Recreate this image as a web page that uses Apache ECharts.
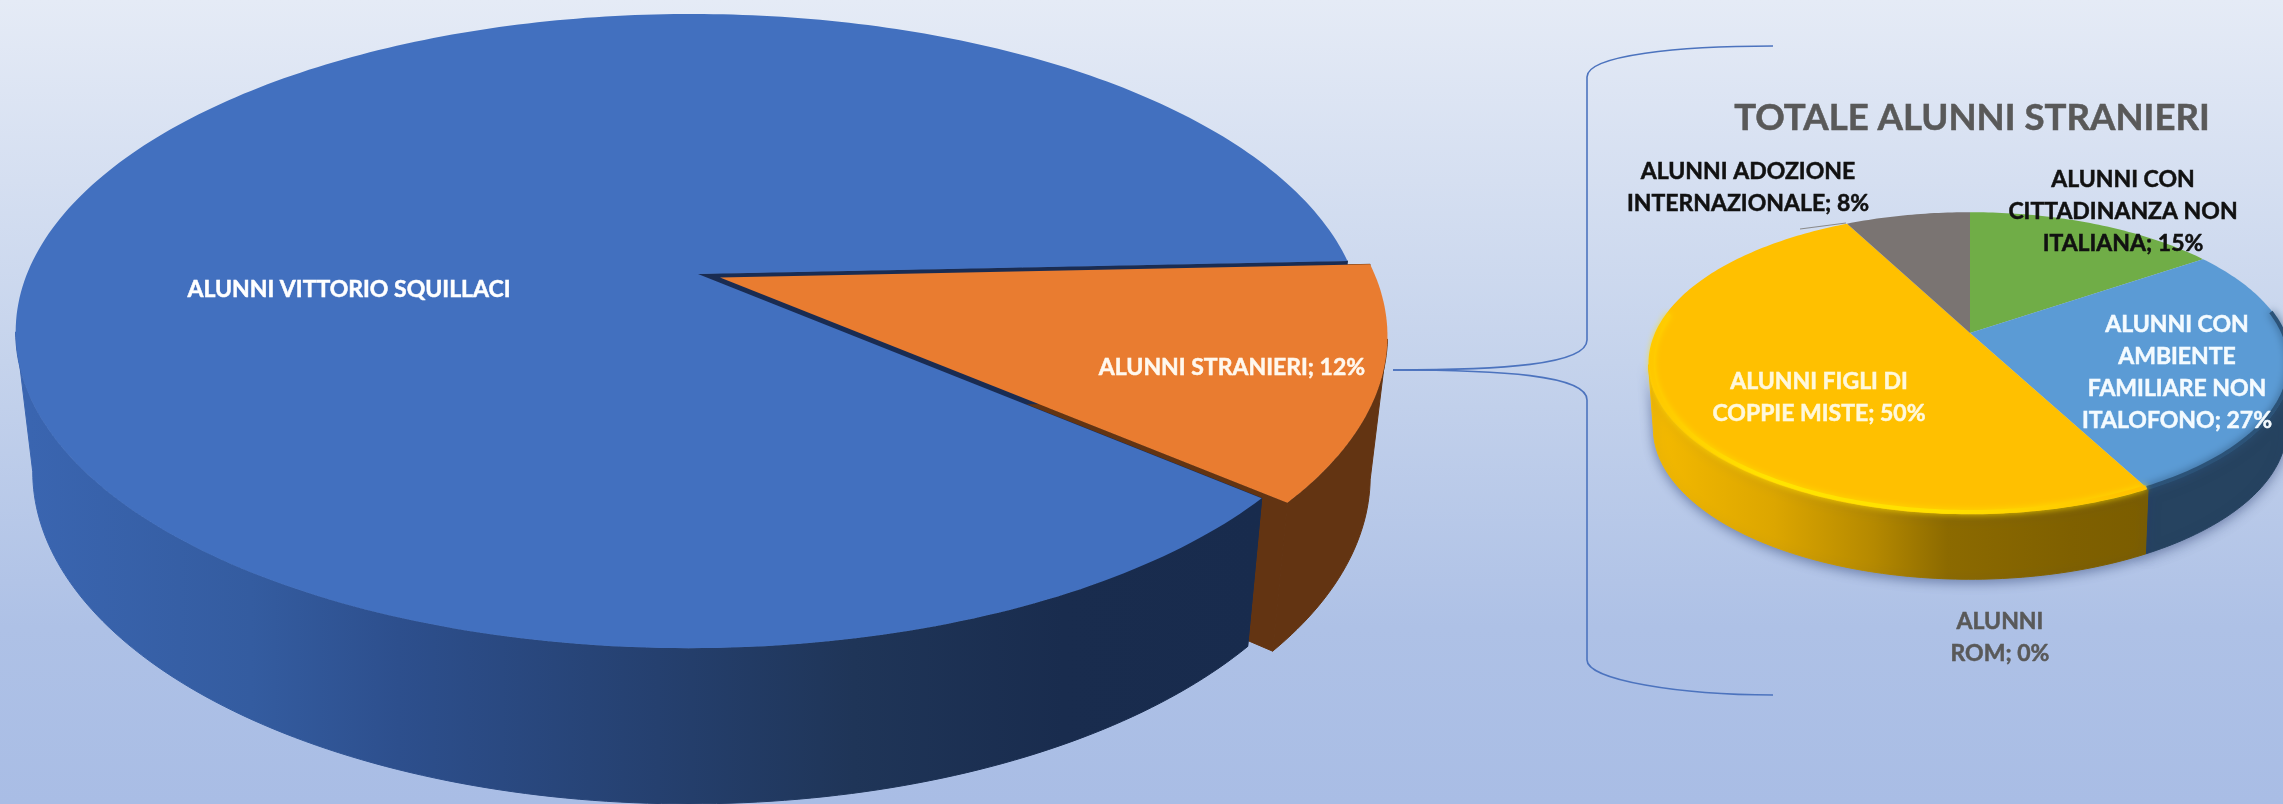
<!DOCTYPE html>
<html>
<head>
<meta charset="utf-8">
<style>html,body{margin:0;padding:0;overflow:hidden}#c{width:2283px;height:804px}</style>
<script src="https://cdn.jsdelivr.net/npm/echarts@6/dist/echarts.min.js"></script>
</head>
<body>
<div id="c"></div>
<script>
// ---- data ----
const mainNames = ['ALUNNI VITTORIO SQUILLACI', 'ALUNNI STRANIERI'];
const mainValues = [88, 12];
const mainLabels = [['ALUNNI VITTORIO SQUILLACI'], ['ALUNNI STRANIERI; 12%']];

const subTitle = 'TOTALE ALUNNI STRANIERI';
const subNames = ['ALUNNI CON CITTADINANZA NON ITALIANA', 'ALUNNI CON AMBIENTE FAMILIARE NON ITALOFONO', 'ALUNNI ROM', 'ALUNNI FIGLI DI COPPIE MISTE', 'ALUNNI ADOZIONE INTERNAZIONALE'];
const subValues = [15.4, 26.9, 0, 50.1, 7.6];
const subLabels = [
  ['ALUNNI CON', 'CITTADINANZA NON', 'ITALIANA; 15%'],
  ['ALUNNI CON', 'AMBIENTE', 'FAMILIARE NON', 'ITALOFONO; 27%'],
  ['ALUNNI', 'ROM; 0%'],
  ['ALUNNI FIGLI DI', 'COPPIE MISTE; 50%'],
  ['ALUNNI ADOZIONE', 'INTERNAZIONALE; 8%']
];

// ---- look ----
const FONT = 'Lato, Carlito, "Open Sans", sans-serif';
const bluewall = {x0: 30, x1: 1260, stops: [[0,'#3A65B0'],[.18,'#345CA0'],[.30,'#2D4F8D'],[.51,'#25406F'],[.67,'#1F3558'],[.84,'#192C4E'],[1,'#182B4D']]};
const yellowwall = {x0: 1650, x1: 2146, stops: [[0,'#F5BA00'],[.25,'#DCA600'],[.45,'#B58900'],[.6,'#8C6A00'],[.85,'#7F6000'],[1,'#7B5D00']]};

function grad(w) {
  return typeof w === 'string' ? w : {type:'linear', x:w.x0, y:0, x2:w.x1, y2:0, global:true,
    colorStops:w.stops.map(s => ({offset:s[0], color:s[1]}))};
}

const mainGeom = {
  ax:698, ay:274, A:663, B:306.8, k:0.18, m:0.012,
  ax2:698, ay2:411, sx:0.975, sy:1.05, start:-40.7,
  explode:[0, 0.035],
  colors:['#4270BF','#E97C30'],
  walls:[bluewall,'#633412'],
  cuts:['#1A2C52','#633412'],
  z:{cut:[3,1], wall:[4,2], top:[5,6]},
  labelPos:[[349,290],[1232,368]],
  labelColor:['#FFFFFF','#FFF8EE'],
  labelSize:23, lineH:32
};
const subGeom = {
  ax:1970, ay:333, A:315, B:145, k:0.2, m:0,
  ax2:1970, ay2:398, sx:0.985, sy:1, start:90,
  explode:[0,0,0,0,0],
  colors:['#70AD47','#5B9BD5','#A5A5A5','#FFC000','#7A7472'],
  walls:['#4E7A32','#264360','#777','#B58900','#4A4A4A'],
  wallGrad:{3:yellowwall},
  cuts:['#444','#444','#444','#444','#444'],
  z:{cut:[1,1,1,1,1], wall:[2,2,2,2,2], top:[5,5,5,5,5]},
  labelPos:[[2123,212],[2177,373],[2000,638],[1819,398],[1748,188]],
  labelColor:['#111111','#F4FBFF','#595959','#FFF8DC','#111111'],
  labelSize:23, lineH:32,
  rim:{3:{color:{type:'linear',x:1650,y:0,x2:2140,y2:0,global:true,colorStops:[{offset:0,color:'#FFC800'},{offset:.25,color:'#FFE400'},{offset:.6,color:'#FFE000'},{offset:1,color:'#FFC000'}]}, r:0.99, w:4, blur:6},
       1:{color:'#2C5378', r:0.995, w:4, blur:8}}
};

// perspective of a unit disc; lower=true gives the bottom ring of the cylinder
function proj(g, u, v, lower) {
  const w = 1 + g.k * v + g.m * u;
  if (lower) return [g.ax2 + g.sx * g.A * u / w, g.ay2 - g.sy * g.B * v / w];
  return [g.ax + g.A * u / w, g.ay - g.B * v / w];
}

function sliceAngles(vals, g, i) {
  const total = vals.reduce((a,b)=>a+b,0);
  let before = 0; for (let j=0;j<i;j++) before += vals[j];
  const a0 = g.start - before/total*360;
  return [a0, a0 - vals[i]/total*360]; // clockwise, degrees
}

function makeRender(g, vals, labels) {
  return function(params, api) {
    const i = params.dataIndex;
    const value = api.value(0);
    const kids = [];
    const ang = sliceAngles(vals, g, i);
    const mid = (ang[0]+ang[1])/2*Math.PI/180;
    const ex = g.explode[i], ox = ex*Math.cos(mid), oy = ex*Math.sin(mid);
    const disc = (deg, r) => { const t = deg*Math.PI/180; return [ox + r*Math.cos(t), oy + r*Math.sin(t)]; };
    if (value > 0) {
      const span = ang[0]-ang[1], n = Math.ceil(span);
      const deg = []; for (let s=0;s<=n;s++) deg.push(ang[0]-span*s/n);
      const top = deg.map(d => { const p=disc(d,1); return proj(g,p[0],p[1],false); });
      const centre = proj(g,ox,oy,false), centreLow = proj(g,ox,oy,true);
      // cut faces
      if (g.explode.some(e=>e>0)) {
        [deg[0], deg[n]].forEach(d => {
          const p = disc(d,1);
          kids.push({type:'polygon', z2:g.z.cut[i], silent:true,
            shape:{points:[centre, proj(g,p[0],p[1],false), proj(g,p[0],p[1],true), centreLow]},
            style:{fill:g.cuts[i], stroke:g.cuts[i], lineWidth:1}});
        });
      }
      // outer wall: the part of the rim in front of the silhouette tangent points
      const front = deg.filter(d => Math.sin(d*Math.PI/180) <= -g.k);
      if (front.length > 1) {
        const up = front.map(d => { const p=disc(d,1); return proj(g,p[0],p[1],false); });
        const lo = front.map(d => { const p=disc(d,1); return proj(g,p[0],p[1],true); }).reverse();
        const wg = (g.wallGrad && g.wallGrad[i]) || g.walls[i];
        const st = {fill:grad(wg), stroke:grad(wg), lineWidth:1};
        if (g === subGeom) { st.shadowColor='rgba(40,60,110,.5)'; st.shadowBlur=12; st.shadowOffsetY=3; }
        kids.push({type:'polygon', z2:g.z.wall[i], silent:true, shape:{points:up.concat(lo)}, style:st});
      }
      // top
      kids.push({type:'polygon', z2:g.z.top[i], silent:true,
        shape:{points:[centre].concat(top)}, style:{fill:g.colors[i]}});
      // bevel
      const rim = g.rim && g.rim[i];
      if (rim) {
        const pts = deg.filter(d => Math.sin(d*Math.PI/180) <= 0.15).map(d => { const p=disc(d,rim.r); return proj(g,p[0],p[1],false); });
        kids.push({type:'polyline', z2:7, silent:true, shape:{points:pts},
          style:{fill:'none', stroke:rim.color, lineWidth:rim.w, shadowColor:rim.color.colorStops?'#FFE000':rim.color, shadowBlur:rim.blur}});
      }
    }
    // label
    const L = labels[i], pos = g.labelPos[i];
    L.forEach((t, k) => {
      kids.push({type:'text', z2:20, silent:true, x:pos[0], y:pos[1] + (k-(L.length-1)/2)*g.lineH,
        style:{text:t, align:'center', verticalAlign:'middle', fill:g.labelColor[i],
               stroke:g.labelColor[i], lineWidth:0.5, font:'700 '+g.labelSize+'px '+FONT}});
    });
    return {type:'group', children:kids};
  };
}

function pieSeries(name, g, names, vals, labels) {
  return {type:'custom', name, coordinateSystem:'none', silent:true, clip:false,
    renderItem:makeRender(g, vals, labels),
    data:vals.map((v,i)=>({name:names[i], value:[v]}))};
}

const lineStyle = {stroke:'#4C73BE', lineWidth:1.6, fill:'none'};
const curve = (x1,y1,a,b,c,d,x2,y2) => ({type:'bezierCurve', silent:true, shape:{x1,y1,cpx1:a,cpy1:b,cpx2:c,cpy2:d,x2,y2}, style:lineStyle});
const seg = (x1,y1,x2,y2) => ({type:'line', silent:true, shape:{x1,y1,x2,y2}, style:lineStyle});

const chart = echarts.init(document.getElementById('c'), null, {renderer:'canvas'});
chart.setOption({
  animation:false,
  backgroundColor:{type:'linear',x:0,y:0,x2:0,y2:1,colorStops:[
    {offset:0,color:'#E5EBF6'},{offset:.45,color:'#C5D3EC'},{offset:.78,color:'#AEC1E6'},{offset:1,color:'#A9BDE5'}]},
  title:{text:subTitle, left:1967, top:95, textAlign:'center',
    textStyle:{fontFamily:FONT, fontWeight:700, fontSize:36.6, color:'#595959', textBorderColor:'#595959', textBorderWidth:0.5}},
  graphic:{elements:[
    curve(1393,370,1500,370,1587,365,1587,340),
    seg(1587,340,1587,77),
    curve(1587,77,1587,55,1680,46,1773,46),
    curve(1393,370,1500,370,1587,375,1587,400),
    seg(1587,400,1587,660),
    curve(1587,660,1587,680,1680,695,1773,695),
    {type:'line', silent:true, z:5, shape:{x1:1800,y1:229,x2:1846,y2:223}, style:{stroke:'#8A8A8A',lineWidth:1.2}}
  ]},
  series:[
    pieSeries('Alunni', mainGeom, mainNames, mainValues, mainLabels),
    pieSeries('Totale alunni stranieri', subGeom, subNames, subValues, subLabels)
  ]
});
</script>
</body>
</html>
